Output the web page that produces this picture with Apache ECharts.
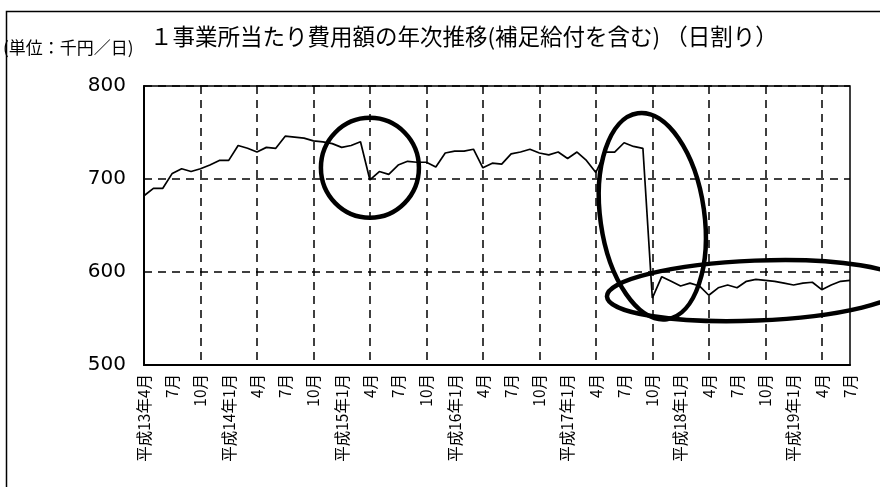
<!DOCTYPE html>
<html>
<head>
<meta charset="utf-8">
<script src="https://cdn.jsdelivr.net/npm/echarts@6/dist/echarts.min.js"></script>
<style>
html,body{margin:0;padding:0;background:#fff;}
#chart{width:880px;height:487px;}
</style>
</head>
<body>
<div id="chart"></div>
<script>
// Monthly categories: 平成13年4月 .. 平成19年7月
const categories = [
  '平成13年4月','5月','6月','7月','8月','9月','10月','11月','12月',
  '平成14年1月','2月','3月','4月','5月','6月','7月','8月','9月','10月','11月','12月',
  '平成15年1月','2月','3月','4月','5月','6月','7月','8月','9月','10月','11月','12月',
  '平成16年1月','2月','3月','4月','5月','6月','7月','8月','9月','10月','11月','12月',
  '平成17年1月','2月','3月','4月','5月','6月','7月','8月','9月','10月','11月','12月',
  '平成18年1月','2月','3月','4月','5月','6月','7月','8月','9月','10月','11月','12月',
  '平成19年1月','2月','3月','4月','5月','6月','7月'
];
// 1事業所当たり費用額（日割り, 千円/日）
const costValues = [
  682,690,690,706,711,708,711,715,720,
  720,736,733,729,734,733,746,745,744,741,740,738,
  734,736,740,699,708,705,715,719,718,718,713,728,
  730,730,732,712,717,716,727,729,732,728,726,729,
  722,729,720,707,729,729,739,735,733,572,595,590,
  585,588,585,575,583,586,583,590,592,591,590,588,
  586,588,589,581,586,590,591
];
const yTicks = { min: 500, max: 800, step: 100 };
// annotation marks: [categoryIndex, value] centres
const annotCircle = [23.5, 712];
const annotTall = [53.8, 660];
const annotWide = [64.7, 580];

const chart = echarts.init(document.getElementById('chart'));
const cjk = '"Noto Sans CJK JP", "Noto Sans", sans-serif';
chart.setOption({
  animation: false,
  backgroundColor: '#fff',
  title: {
    text: '１事業所当たり費用額の年次推移(補足給付を含む) （日割り）',
    left: 145, top: 20,
    textStyle: { fontFamily: cjk, fontSize: 22.5, fontWeight: 'normal', color: '#000' }
  },
  grid: {
    left: 144, right: 30, top: 86, bottom: 122,
    show: true, borderColor: '#000', borderWidth: 1.5, backgroundColor: 'transparent'
  },
  xAxis: {
    type: 'category',
    data: categories,
    boundaryGap: false,
    axisLine: { show: true, lineStyle: { color: '#000', width: 2 } },
    axisTick: { show: false },
    axisLabel: {
      interval: 2, rotate: 90, margin: 9,
      fontFamily: cjk, fontSize: 15.5, color: '#000'
    },
    splitLine: {
      show: true,
      interval: function (index) { return index % 6 === 0; },
      lineStyle: { color: '#000', width: 1.5, type: [8, 6] }
    }
  },
  yAxis: {
    type: 'value',
    min: yTicks.min, max: yTicks.max, interval: yTicks.step,
    axisLine: { show: true, lineStyle: { color: '#000', width: 2 } },
    axisTick: { show: false },
    axisLabel: { margin: 18, fontFamily: '"DejaVu Sans", sans-serif', fontSize: 20, color: '#000' },
    splitLine: { show: true, lineStyle: { color: '#000', width: 1.5, type: [8, 6] } }
  },
  series: [{
    type: 'line',
    data: costValues,
    showSymbol: false,
    symbol: 'none',
    lineStyle: { color: '#000', width: 1.7 },
    z: 3
  }]
});

function px(p) { return chart.convertToPixel({ gridIndex: 0 }, p); }
const c1 = px(annotCircle), c2 = px(annotTall), c3 = px(annotWide);
chart.setOption({
  graphic: [
    { type: 'rect', left: 4, top: 9, shape: { x: 0, y: 0, width: 1000, height: 1000 },
      style: { fill: 'none', stroke: '#000', lineWidth: 1.5 }, silent: true },
    { type: 'text', left: 3, top: 39,
      style: { text: '(単位：千円／日)', fontFamily: cjk, fontSize: 17, fill: '#000' } },
    { type: 'ellipse', x: c1[0], y: c1[1], shape: { cx: 0, cy: 0, rx: 49, ry: 50 },
      style: { fill: 'none', stroke: '#000', lineWidth: 4.5 }, z: 10 },
    { type: 'ellipse', x: c2[0], y: c2[1], rotation: 0.14, shape: { cx: 0, cy: 0, rx: 52, ry: 104 },
      style: { fill: 'none', stroke: '#000', lineWidth: 4.5 }, z: 10 },
    { type: 'ellipse', x: c3[0], y: c3[1], rotation: 0.04, shape: { cx: 0, cy: 0, rx: 149, ry: 30 },
      style: { fill: 'none', stroke: '#000', lineWidth: 4.5 }, z: 10 }
  ]
});
</script>
</body>
</html>
